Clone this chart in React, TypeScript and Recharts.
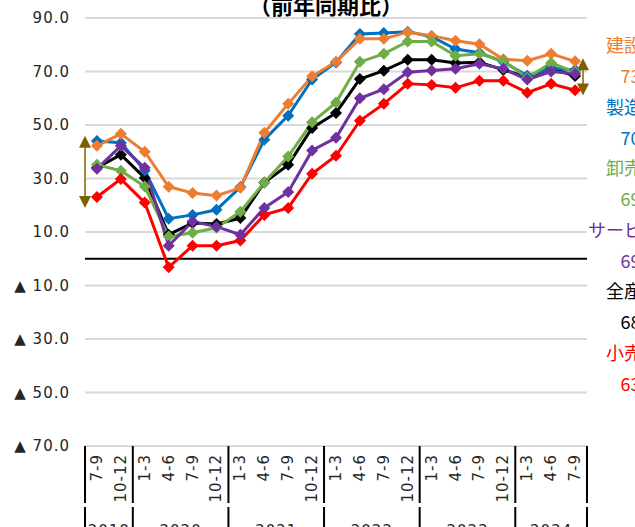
import { LineChart, Line, XAxis, YAxis, CartesianGrid, ReferenceLine } from "recharts";

if (typeof document !== "undefined") document.body.style.margin = "0";

const periodYears = [
  "2019", "2019",
  "2020", "2020", "2020", "2020",
  "2021", "2021", "2021", "2021",
  "2022", "2022", "2022", "2022",
  "2023", "2023", "2023", "2023",
  "2024", "2024", "2024",
];
const periodQuarters = [
  "7-9", "10-12",
  "1-3", "4-6", "7-9", "10-12",
  "1-3", "4-6", "7-9", "10-12",
  "1-3", "4-6", "7-9", "10-12",
  "1-3", "4-6", "7-9", "10-12",
  "1-3", "4-6", "7-9",
];

// 前年同期比 (%)
const construction = [42.2, 46.7, 40.0, 26.9, 24.6, 23.6, 26.5, 47.1, 57.9, 68.2, 73.6, 82.2, 82.2, 84.7, 83.4, 81.5, 80.2, 74.6, 74.0, 76.6, 73.8];
const manufacturing = [44.0, 43.4, 33.0, 15.0, 16.4, 18.3, 26.8, 44.5, 53.5, 67.0, 73.4, 84.0, 84.4, 84.9, 83.0, 78.4, 77.0, 73.6, 68.4, 71.2, 70.6];
const wholesale = [35.1, 32.9, 27.0, 8.3, 9.7, 11.6, 17.6, 28.5, 38.2, 51.0, 58.4, 73.6, 76.6, 81.2, 81.2, 75.9, 76.6, 74.0, 67.7, 73.2, 69.8];
const services = [33.6, 42.2, 34.0, 4.9, 13.9, 12.0, 9.0, 19.0, 25.0, 40.5, 45.2, 60.0, 63.4, 69.7, 70.4, 71.0, 72.9, 71.0, 67.0, 70.0, 69.2];
const allIndustries = [34.0, 38.9, 30.2, 9.0, 13.4, 13.0, 15.2, 28.5, 35.1, 48.9, 54.5, 67.2, 70.3, 74.4, 74.4, 73.2, 73.5, 70.6, 68.0, 71.2, 68.3];
const retail = [23.1, 29.8, 21.0, -3.2, 4.9, 4.9, 6.8, 16.4, 19.0, 31.8, 38.5, 51.6, 57.9, 65.4, 65.0, 63.9, 66.5, 66.5, 62.1, 65.4, 63.0];

const yTicks = [-70, -50, -30, -10, 10, 30, 50, 70, 90];

// range arrows (top, bottom) at first and last period
const leftArrow = [46, 19];
const rightArrow = [75, 61];

const sideLabels = [
  { name: "建設業", value: "73.8", color: "#ED7D31" },
  { name: "製造業", value: "70.6", color: "#0070C0" },
  { name: "卸売業", value: "69.8", color: "#70AD47" },
  { name: "サービス業", value: "69.2", color: "#7030A0" },
  { name: "全産業", value: "68.3", color: "#000000" },
  { name: "小売業", value: "63.0", color: "#FF0000" },
];

const periods = periodYears.map((y, i) => `${y} ${periodQuarters[i]}`);

const chartData = periods.map((p, i) => ({
  period: p,
  construction: construction[i],
  manufacturing: manufacturing[i],
  wholesale: wholesale[i],
  services: services[i],
  all: allIndustries[i],
  retail: retail[i],
}));

const W = 635;
const H = 527;
const PLOT_LEFT = 85;
const PLOT_RIGHT = 587;
const BAND = (PLOT_RIGHT - PLOT_LEFT) / periods.length;
const FONT = "'DejaVu Sans', Verdana, sans-serif";
const JP = "'Noto Sans CJK JP', sans-serif";

const diamond = (color: string) => (p: any) => {
  const { cx, cy, index } = p;
  if (cx == null || cy == null) return <g key={`${color}-${index}`} />;
  const r = 6;
  return (
    <polygon
      key={`${color}-${index}`}
      points={`${cx},${cy - r} ${cx + r},${cy} ${cx},${cy + r} ${cx - r},${cy}`}
      fill={color}
    />
  );
};

// arrow beside a data point; y from the reference segment
const arrowShape = (dx: number) => (p: any) => {
  if (p.y1 == null || p.x1 == null) return <g />;
  const x = p.x1 + dx;
  const top = Math.min(p.y1, p.y2);
  const bot = Math.max(p.y1, p.y2);
  const h = 12;
  const w = 6;
  return (
    <g>
      <line x1={x} y1={top + h - 2} x2={x} y2={bot - h + 2} stroke="#A08A3C" strokeWidth={2} />
      <polygon points={`${x},${top} ${x + w},${top + h} ${x - w},${top + h}`} fill="#7F6000" />
      <polygon points={`${x},${bot} ${x + w},${bot - h} ${x - w},${bot - h}`} fill="#7F6000" />
    </g>
  );
};

function PeriodTick(props: any) {
  const { x, y, payload } = props;
  const i = payload.index;
  const year = periodYears[i];
  const isStart = i === 0 || periodYears[i - 1] !== year;
  const isLast = i === periods.length - 1;
  const groupSize = periodYears.filter((v) => v === year).length;
  const tx = x + 5;
  const ty = y + 8;
  return (
    <g>
      <text
        x={tx}
        y={ty}
        transform={`rotate(-90 ${tx} ${ty})`}
        textAnchor="end"
        fontFamily={FONT}
        fontSize={15}
        letterSpacing={1}
        fill="#262626"
      >
        {periodQuarters[i]}
      </text>
      {isStart && (
        <>
          <line x1={x - BAND / 2} y1={y} x2={x - BAND / 2} y2={y + 57} stroke="#000" strokeWidth={2} />
          <line x1={x - BAND / 2} y1={y + 61} x2={x - BAND / 2} y2={y + 90} stroke="#000" strokeWidth={2} />
          <text
            x={x + ((groupSize - 1) * BAND) / 2}
            y={y + 90}
            textAnchor="middle"
            fontFamily={FONT}
            fontSize={15}
            letterSpacing={1}
            fill="#262626"
          >
            {year}
          </text>
        </>
      )}
      {isLast && (
        <>
          <line x1={x + BAND / 2} y1={y} x2={x + BAND / 2} y2={y + 57} stroke="#000" strokeWidth={2} />
          <line x1={x + BAND / 2} y1={y + 61} x2={x + BAND / 2} y2={y + 90} stroke="#000" strokeWidth={2} />
        </>
      )}
    </g>
  );
}

const fmtY = (v: number) => (v < 0 ? `▲ ${(-v).toFixed(1)}` : v.toFixed(1));

export default function App() {
  return (
    <div style={{ position: "relative", width: W, height: H, overflow: "hidden", background: "#fff" }}>
      <LineChart
        width={W}
        height={H}
        data={chartData}
        margin={{ top: 18, right: W - PLOT_RIGHT, left: 0, bottom: 0 }}
      >
        <CartesianGrid vertical={false} stroke="#d9d9d9" strokeWidth={2} />
        <XAxis
          dataKey="period"
          interval={0}
          height={81}
          padding={{ left: BAND / 2, right: BAND / 2 }}
          tickLine={false}
          axisLine={false}
          tickSize={0}
          tickMargin={0}
          tick={<PeriodTick />}
        />
        <YAxis
          type="number"
          domain={[-70, 90]}
          ticks={yTicks}
          width={PLOT_LEFT}
          tickLine={false}
          axisLine={false}
          tickSize={0}
          tickMargin={15}
          tickFormatter={fmtY}
          tick={{ fontFamily: FONT, fontSize: 15, fill: "#262626", letterSpacing: 1 }}
        />
        <ReferenceLine y={0} stroke="#000" strokeWidth={2} />
        <Line dataKey="all" stroke="#000000" strokeWidth={3} dot={diamond("#000000")} activeDot={false} isAnimationActive={false} />
        <Line dataKey="manufacturing" stroke="#0070C0" strokeWidth={3} dot={diamond("#0070C0")} activeDot={false} isAnimationActive={false} />
        <Line dataKey="construction" stroke="#ED7D31" strokeWidth={3} dot={diamond("#ED7D31")} activeDot={false} isAnimationActive={false} />
        <Line dataKey="wholesale" stroke="#70AD47" strokeWidth={3} dot={diamond("#70AD47")} activeDot={false} isAnimationActive={false} />
        <Line dataKey="retail" stroke="#FF0000" strokeWidth={3} dot={diamond("#FF0000")} activeDot={false} isAnimationActive={false} />
        <Line dataKey="services" stroke="#7030A0" strokeWidth={3} dot={diamond("#7030A0")} activeDot={false} isAnimationActive={false} />
        <ReferenceLine
          ifOverflow="visible"
          segment={[
            { x: periods[0], y: leftArrow[0] },
            { x: periods[0], y: leftArrow[1] },
          ]}
          shape={arrowShape(-BAND / 2)}
        />
        <ReferenceLine
          ifOverflow="visible"
          segment={[
            { x: periods[periods.length - 1], y: rightArrow[0] },
            { x: periods[periods.length - 1], y: rightArrow[1] },
          ]}
          shape={arrowShape(BAND / 2 - 4)}
        />
      </LineChart>
      <svg width={W} height={H} style={{ position: "absolute", left: 0, top: 0, pointerEvents: "none" }}>
        <text x={326} y={14} textAnchor="middle" fontFamily={JP} fontWeight="bold" fontSize={22} fill="#000">
          （前年同期比）
        </text>
        {sideLabels.map((s, i) => (
          <g key={s.name}>
            <text x={633} y={44 + i * 61.5} textAnchor="middle" dominantBaseline="central" fontFamily={JP} fontSize={18} fill={s.color}>
              {s.name}
            </text>
            <text x={638} y={75 + i * 61.5} textAnchor="middle" dominantBaseline="central" fontFamily={JP} fontSize={18} fill={s.color}>
              {s.value}
            </text>
          </g>
        ))}
      </svg>
    </div>
  );
}
